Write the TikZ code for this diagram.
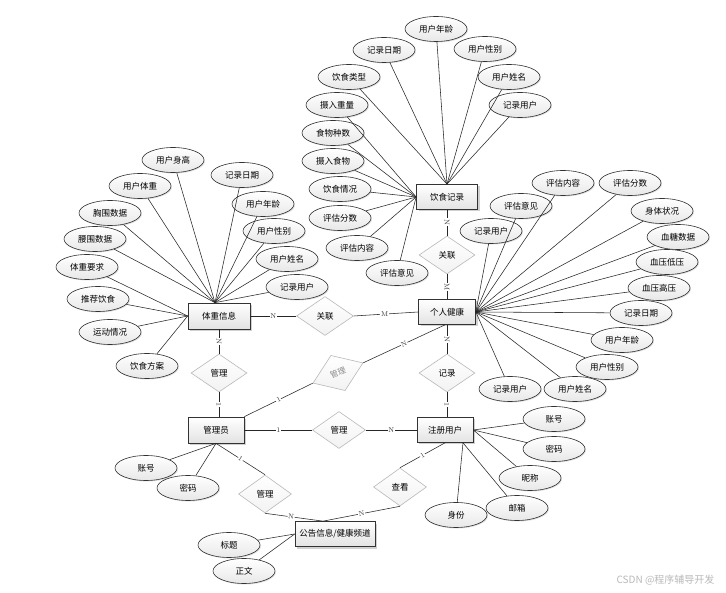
\documentclass[tikz,border=0pt]{standalone}
\usepackage{fontspec}
\newfontfamily\cjk{Noto Sans CJK SC}
\usetikzlibrary{shapes.geometric,shadows}
\begin{document}
\begin{tikzpicture}[x=1pt,y=-1pt,
  every node/.style={font=\cjk\fontsize{8.5}{10}\selectfont},
  ent/.style={rectangle,draw=gray!40!black,line width=0.7pt,top color=white,bottom color=gray!22,
    inner sep=2pt,drop shadow={shadow xshift=2pt,shadow yshift=-2pt,fill=gray!45,opacity=0.8}},
  attr/.style={ellipse,draw=gray!40!black,line width=0.6pt,top color=white,bottom color=gray!18,
    minimum width=62,minimum height=25,inner sep=0pt,
    drop shadow={shadow xshift=1pt,shadow yshift=-1pt,fill=gray!40,opacity=0.6}},
  rel/.style={diamond,draw=gray!55,line width=0.6pt,top color=white,bottom color=gray!10,
    minimum width=56,minimum height=38,inner sep=0pt},
  ln/.style={draw=gray!30!black,line width=0.55pt},
  card/.style={fill=white,inner sep=0.6pt,font=\fontsize{7}{7}\selectfont,text=black!80}
]
\useasboundingbox[fill=white] (0,0) rectangle (726,593);

% ---------------- entities
\node[ent,minimum width=61,minimum height=25] (ys) at (447,197) {饮食记录};
\node[ent,minimum width=57,minimum height=25] (gr) at (447,312) {个人健康};
\node[ent,minimum width=62,minimum height=26] (tz) at (219,316) {体重信息};
\node[ent,minimum width=56,minimum height=26] (gly) at (216,430) {管理员};
\node[ent,minimum width=56,minimum height=25] (zc) at (445,430) {注册用户};
\node[ent,minimum width=80,minimum height=25,inner sep=1pt] (gg) at (335,534) {公告信息/健康频道};

% ---------------- relationships
\node[rel] (gl1) at (447,255) {关联};
\node[rel,minimum width=57,minimum height=39] (gl2) at (325,316) {关联};
\node[rel] (gla) at (219,373) {管理};
\node[rel,minimum width=54,rotate=22,text=gray!90,font=\cjk\fontsize{8}{9}\selectfont] (glb) at (338,373) {管理};
\node[rel] (jl) at (447,373) {记录};
\node[rel,minimum width=53,minimum height=37] (glc) at (339,430) {管理};
\node[rel,minimum width=53] (gld) at (265,494) {管理};
\node[rel,minimum width=53] (ck) at (400,487) {查看};

% ---------------- relationship connectors
\draw[ln] (ys.south) -- node[card,sloped,pos=0.47]{N} (gl1.north);
\draw[ln] (gl1.south) -- node[card,sloped,pos=0.5]{M} (gr.north);
\draw[ln] (tz.east) -- node[card,pos=0.5]{N} (gl2.west);
\draw[ln] (gl2.east) -- node[card,pos=0.48]{M} (gr.west);
\draw[ln] (tz.south) -- node[card,sloped,pos=0.5]{N} (gla.north);
\draw[ln] (gla.south) -- node[card,sloped,pos=0.5]{1} (gla.south |- gly.north);
\draw[ln] (gly.north east) -- node[card,sloped,pos=0.5]{1} (glb.west);
\draw[ln] (glb.east) -- node[card,sloped,pos=0.5]{N} ([xshift=-2pt]gr.south);
\draw[ln] (gr.south) -- node[card,sloped,pos=0.5]{N} (jl.north);
\draw[ln] (jl.south) -- node[card,sloped,pos=0.5]{1} (jl.south |- zc.north);
\draw[ln] (gly.east) -- node[card,pos=0.5]{1} (glc.west);
\draw[ln] (glc.east) -- node[card,pos=0.5]{N} (zc.west);
\coordinate (ggt) at ([xshift=-12pt]gg.north);
\draw[ln] (gly.south) -- node[card,sloped,pos=0.5]{1} (gld.north);
\draw[ln] (gld.south) -- node[card,sloped,pos=0.45]{N} (ggt);
\draw[ln] (zc.south) -- node[card,sloped,pos=0.5]{1} (ck.north);
\draw[ln] (ck.south) -- node[card,sloped,pos=0.5]{N} (ggt);

% ---------------- attributes of 饮食记录
\node[attr] (a1) at (436,29) {用户年龄};
\node[attr] (a2) at (384,50) {记录日期};
\node[attr] (a3) at (485,49) {用户性别};
\node[attr] (a4) at (349,77) {饮食类型};
\node[attr] (a5) at (509,77) {用户姓名};
\node[attr] (a6) at (337,105) {摄入重量};
\node[attr] (a7) at (520,105) {记录用户};
\node[attr] (a8) at (333,133) {食物种数};
\node[attr] (a9) at (333,161) {摄入食物};
\node[attr] (a10) at (340,189) {饮食情况};
\node[attr] (a11) at (340,218) {评估分数};
\node[attr] (a12) at (357,248) {评估内容};
\node[attr] (a13) at (397,273) {评估意见};
\foreach \a in {a1,a2,a3,a4,a5,a7} \draw[ln] (\a) -- (ys.north);
\foreach \a in {a6,a8,a9,a10,a11,a12,a13} \draw[ln] (\a) -- (ys.west);

% ---------------- attributes of 体重信息
\node[attr] (b1) at (173,160) {用户身高};
\node[attr] (b2) at (242,175) {记录日期};
\node[attr] (b3) at (140,186) {用户体重};
\node[attr] (b4) at (263,204) {用户年龄};
\node[attr] (b5) at (110,213) {胸围数据};
\node[attr] (b6) at (274,231) {用户性别};
\node[attr] (b7) at (95,239) {腰围数据};
\node[attr] (b8) at (287,259) {用户姓名};
\node[attr] (b9) at (87,267) {体重要求};
\node[attr] (b10) at (297,287) {记录用户};
\node[attr] (b11) at (98,299) {推荐饮食};
\node[attr] (b12) at (110,332) {运动情况};
\node[attr] (b13) at (147,366) {饮食方案};
\coordinate (tzn) at ([xshift=-4pt]tz.north);
\foreach \a in {b1,b2,b3,b4,b5,b6,b7,b8,b10} \draw[ln] (\a) -- (tzn);
\foreach \a in {b9,b11,b12,b13} \draw[ln] (\a) -- (tz.west);

% ---------------- attributes of 个人健康
\node[attr] (c1) at (563,183) {评估内容};
\node[attr] (c2) at (630,183) {评估分数};
\node[attr] (c3) at (521,206) {评估意见};
\node[attr] (c4) at (662,211) {身体状况};
\node[attr] (c5) at (491,231) {记录用户};
\node[attr] (c6) at (678,237) {血糖数据};
\node[attr] (c7) at (667,262) {血压低压};
\node[attr] (c8) at (659,288) {血压高压};
\node[attr] (c9) at (641,313) {记录日期};
\node[attr] (c10) at (622,340) {用户年龄};
\node[attr] (c11) at (607,367) {用户性别};
\node[attr] (c12) at (575,389) {用户姓名};
\node[attr] (c13) at (510,389) {记录用户};
\foreach \a in {c1,c2,c3,c4,c5,c6,c7,c8,c9,c10,c11,c12,c13} \draw[ln] (\a) -- (gr.east);

% ---------------- attributes of 管理员
\node[attr] (d1) at (146,468) {账号};
\node[attr] (d2) at (188,488) {密码};
\draw[ln] (d1) -- (gly.south);
\draw[ln] (d2) -- (gly.south);

% ---------------- attributes of 公告信息/健康频道
\node[attr] (e1) at (229,545) {标题};
\node[attr] (e2) at (244,571) {正文};
\draw[ln] (e1) -- (gg.west);
\draw[ln] (e2) -- (gg.west);

% ---------------- attributes of 注册用户
\node[attr] (f1) at (554,419) {账号};
\node[attr] (f2) at (554,449) {密码};
\node[attr] (f3) at (530,478) {昵称};
\node[attr] (f4) at (517,508) {邮箱};
\node[attr] (f5) at (456,515) {身份};
\coordinate (zcs) at ([xshift=18pt]zc.south);
\foreach \a in {f1,f2,f3} \draw[ln] (\a) -- (zc.east);
\draw[ln] (f4) -- (zcs);
\draw[ln] (f5) -- (zcs);

% ---------------- watermark
\node[anchor=east,text=gray!55,font=\cjk\fontsize{10}{12}\selectfont] (wm) at (718,580) {CSDN @程序辅导开发};
\end{tikzpicture}
\end{document}
